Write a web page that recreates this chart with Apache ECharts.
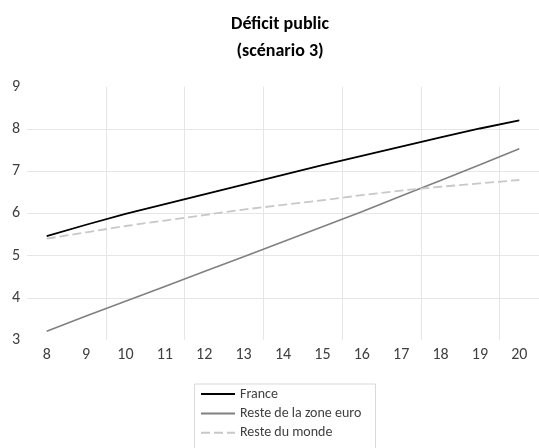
<!DOCTYPE html>
<html>
<head>
<meta charset="utf-8">
<script src="https://cdn.jsdelivr.net/npm/echarts@6/dist/echarts.min.js"></script>
<style>
html,body{margin:0;padding:0;background:#fff;}
#chart{width:539px;height:448px;}
</style>
</head>
<body>
<div id="chart"></div>
<script>
const categories = ['8','9','10','11','12','13','14','15','16','17','18','19','20'];
const france = [5.46, 5.73, 5.99, 6.22, 6.45, 6.68, 6.91, 7.14, 7.36, 7.58, 7.80, 8.01, 8.20];
const zoneEuro = [3.21, 3.57, 3.92, 4.27, 4.62, 4.97, 5.33, 5.68, 6.04, 6.41, 6.78, 7.15, 7.53];
const resteMonde = [5.40, 5.55, 5.70, 5.83, 5.96, 6.09, 6.20, 6.31, 6.43, 6.54, 6.63, 6.71, 6.79];
const seriesNames = ['France', 'Reste de la zone euro', 'Reste du monde'];
const titleText = 'Déficit public\n(scénario 3)';

const FONT = "Carlito, 'Liberation Sans', Arial, sans-serif";
const chart = echarts.init(document.getElementById('chart'), null, {renderer: 'canvas'});
chart.setOption({
  animation: false,
  backgroundColor: '#ffffff',
  textStyle: {fontFamily: FONT},
  title: {
    text: titleText,
    left: 275,
    top: 6,
    textAlign: 'center',
    textStyle: {fontFamily: FONT, fontSize: 18, fontWeight: 'bold', color: '#000', lineHeight: 27}
  },
  graphic: [{
    type: 'rect',
    left: 192,
    top: 381.5,
    shape: {width: 181, height: 80},
    style: {fill: 'none', stroke: '#d9d9d9', lineWidth: 1},
    silent: true,
    z: 0
  }],
  legend: {
    orient: 'vertical',
    left: 192,
    top: 382,
    padding: [5, 10, 2, 8],
    itemWidth: 34,
    itemHeight: 14,
    itemGap: 5.4,
    itemStyle: {opacity: 0},
    textStyle: {fontFamily: FONT, fontSize: 14, color: '#404040', lineHeight: 14},
    data: seriesNames
  },
  grid: {left: 27, right: -1, top: 86.7, bottom: 108, containLabel: false},
  xAxis: {
    type: 'category',
    data: categories,
    boundaryGap: true,
    axisLine: {show: false},
    axisTick: {show: false},
    axisLabel: {interval: 0, margin: 7, fontSize: 16, color: '#404040', fontFamily: FONT},
    splitLine: {
      show: true,
      interval: function (index) { return index > 0 && index % 2 === 0; },
      lineStyle: {color: '#e6e6e6', width: 1}
    }
  },
  yAxis: {
    type: 'value',
    min: 3,
    max: 9,
    interval: 1,
    axisLine: {show: false},
    axisTick: {show: false},
    axisLabel: {margin: 7, fontSize: 16, color: '#404040', fontFamily: FONT},
    splitLine: {show: true, showMinLine: false, showMaxLine: false, lineStyle: {color: '#e6e6e6', width: 1}}
  },
  series: [
    {name: seriesNames[0], type: 'line', data: france, symbol: 'none', color: '#000000',
     lineStyle: {color: '#000000', width: 1.8}},
    {name: seriesNames[1], type: 'line', data: zoneEuro, symbol: 'none', color: '#808080',
     lineStyle: {color: '#808080', width: 1.6}},
    {name: seriesNames[2], type: 'line', data: resteMonde, symbol: 'none', color: '#c8c8c8',
     lineStyle: {color: '#c8c8c8', width: 1.8, type: [9, 4]}}
  ]
});
</script>
</body>
</html>
